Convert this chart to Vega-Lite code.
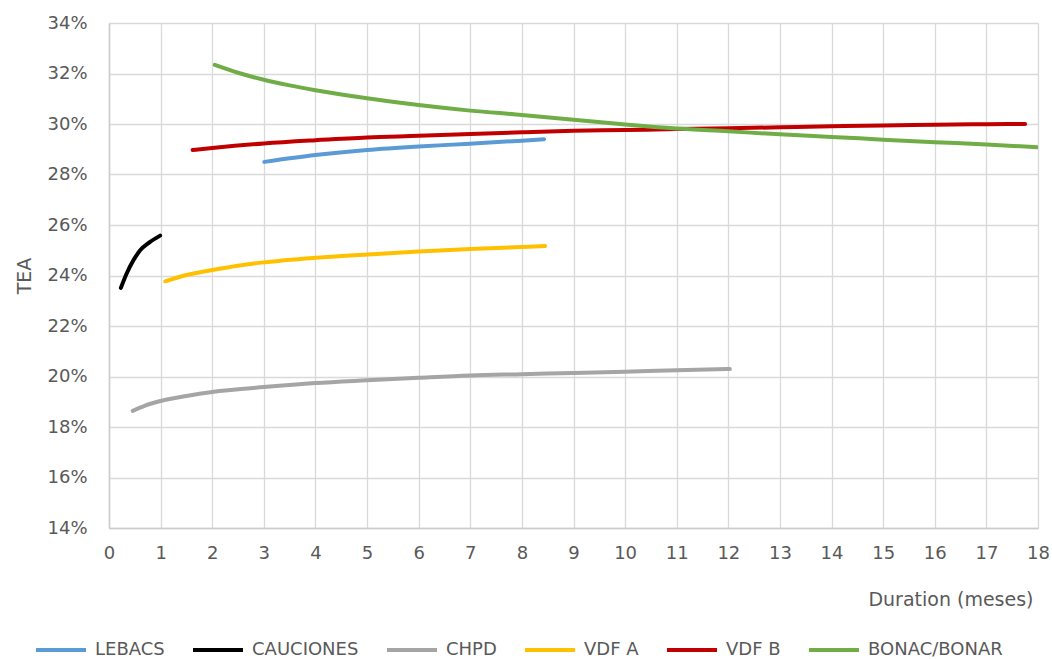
{
  "$schema": "https://vega.github.io/schema/vega-lite/v6.json",
  "width": 929,
  "height": 505,
  "autosize": {"type": "none"},
  "padding": {"left": 109, "top": 23, "right": 14, "bottom": 131},
  "background": "white",
  "config": {
    "view": {"stroke": null},
    "font": "DejaVu Sans",
    "axis": {
      "labelFont": "DejaVu Sans",
      "titleFont": "DejaVu Sans",
      "labelColor": "#595959",
      "titleColor": "#595959",
      "labelFontSize": 18,
      "titleFontSize": 19,
      "titleFontWeight": "normal",
      "gridColor": "#d9d9d9",
      "gridWidth": 1.3,
      "domainColor": "#cccccc",
      "domainWidth": 1.5,
      "ticks": false
    },
    "legend": {
      "labelFont": "DejaVu Sans",
      "labelColor": "#595959",
      "labelFontSize": 18
    }
  },
  "data": {
    "values": [
      {"series": "LEBACS", "m": 3.01, "v": 0.2850},
      {"series": "LEBACS", "m": 4, "v": 0.2877},
      {"series": "LEBACS", "m": 5, "v": 0.2897},
      {"series": "LEBACS", "m": 6, "v": 0.2911},
      {"series": "LEBACS", "m": 7, "v": 0.2922},
      {"series": "LEBACS", "m": 8, "v": 0.2934},
      {"series": "LEBACS", "m": 8.43, "v": 0.2940},
      {"series": "CAUCIONES", "m": 0.23, "v": 0.2351},
      {"series": "CAUCIONES", "m": 0.34, "v": 0.2407},
      {"series": "CAUCIONES", "m": 0.47, "v": 0.2459},
      {"series": "CAUCIONES", "m": 0.6, "v": 0.2499},
      {"series": "CAUCIONES", "m": 0.79, "v": 0.2532},
      {"series": "CAUCIONES", "m": 0.99, "v": 0.2558},
      {"series": "CHPD", "m": 0.46, "v": 0.1864},
      {"series": "CHPD", "m": 0.7, "v": 0.1885},
      {"series": "CHPD", "m": 1, "v": 0.1903},
      {"series": "CHPD", "m": 1.5, "v": 0.1923},
      {"series": "CHPD", "m": 2, "v": 0.1939},
      {"series": "CHPD", "m": 3, "v": 0.1958},
      {"series": "CHPD", "m": 4, "v": 0.1974},
      {"series": "CHPD", "m": 5, "v": 0.1985},
      {"series": "CHPD", "m": 6, "v": 0.1995},
      {"series": "CHPD", "m": 7, "v": 0.2004},
      {"series": "CHPD", "m": 8, "v": 0.2009},
      {"series": "CHPD", "m": 9, "v": 0.2014},
      {"series": "CHPD", "m": 10, "v": 0.2019},
      {"series": "CHPD", "m": 11, "v": 0.2025},
      {"series": "CHPD", "m": 12.03, "v": 0.2030},
      {"series": "VDF A", "m": 1.09, "v": 0.2377},
      {"series": "VDF A", "m": 1.5, "v": 0.2402},
      {"series": "VDF A", "m": 2, "v": 0.2422},
      {"series": "VDF A", "m": 2.5, "v": 0.2439},
      {"series": "VDF A", "m": 3, "v": 0.2452},
      {"series": "VDF A", "m": 4, "v": 0.2470},
      {"series": "VDF A", "m": 5, "v": 0.2483},
      {"series": "VDF A", "m": 6, "v": 0.2495},
      {"series": "VDF A", "m": 7, "v": 0.2505},
      {"series": "VDF A", "m": 8, "v": 0.2513},
      {"series": "VDF A", "m": 8.45, "v": 0.2517},
      {"series": "VDF B", "m": 1.62, "v": 0.2897},
      {"series": "VDF B", "m": 2, "v": 0.2905},
      {"series": "VDF B", "m": 3, "v": 0.2923},
      {"series": "VDF B", "m": 4, "v": 0.2936},
      {"series": "VDF B", "m": 5, "v": 0.2947},
      {"series": "VDF B", "m": 6, "v": 0.2953},
      {"series": "VDF B", "m": 7, "v": 0.2960},
      {"series": "VDF B", "m": 8, "v": 0.2967},
      {"series": "VDF B", "m": 9, "v": 0.2973},
      {"series": "VDF B", "m": 10, "v": 0.2976},
      {"series": "VDF B", "m": 11, "v": 0.2980},
      {"series": "VDF B", "m": 12, "v": 0.2983},
      {"series": "VDF B", "m": 13, "v": 0.2987},
      {"series": "VDF B", "m": 14, "v": 0.2991},
      {"series": "VDF B", "m": 15, "v": 0.2994},
      {"series": "VDF B", "m": 16, "v": 0.2997},
      {"series": "VDF B", "m": 17, "v": 0.2999},
      {"series": "VDF B", "m": 17.75, "v": 0.3000},
      {"series": "BONAC/BONAR", "m": 2.05, "v": 0.3234},
      {"series": "BONAC/BONAR", "m": 2.5, "v": 0.3203},
      {"series": "BONAC/BONAR", "m": 3, "v": 0.3175},
      {"series": "BONAC/BONAR", "m": 3.5, "v": 0.3153},
      {"series": "BONAC/BONAR", "m": 4, "v": 0.3134},
      {"series": "BONAC/BONAR", "m": 5, "v": 0.3102},
      {"series": "BONAC/BONAR", "m": 6, "v": 0.3075},
      {"series": "BONAC/BONAR", "m": 7, "v": 0.3053},
      {"series": "BONAC/BONAR", "m": 8, "v": 0.3036},
      {"series": "BONAC/BONAR", "m": 9, "v": 0.3017},
      {"series": "BONAC/BONAR", "m": 10, "v": 0.2998},
      {"series": "BONAC/BONAR", "m": 11, "v": 0.2982},
      {"series": "BONAC/BONAR", "m": 12, "v": 0.2971},
      {"series": "BONAC/BONAR", "m": 13, "v": 0.2959},
      {"series": "BONAC/BONAR", "m": 14, "v": 0.2949},
      {"series": "BONAC/BONAR", "m": 15, "v": 0.2938},
      {"series": "BONAC/BONAR", "m": 16, "v": 0.2928},
      {"series": "BONAC/BONAR", "m": 17, "v": 0.2919},
      {"series": "BONAC/BONAR", "m": 18, "v": 0.2908}
    ]
  },
  "mark": {"type": "line", "strokeWidth": 4, "interpolate": "monotone", "strokeCap": "round", "clip": true},
  "encoding": {
    "x": {
      "field": "m",
      "type": "quantitative",
      "scale": {"domain": [0, 18], "nice": false, "zero": false},
      "axis": {
        "values": [0,1,2,3,4,5,6,7,8,9,10,11,12,13,14,15,16,17,18],
        "title": "Duration (meses)",
        "titleAnchor": "end",
        "titleAlign": "right",
        "titleX": 924,
        "titlePadding": 28,
        "labelPadding": 16,
        "labelFlush": false
      }
    },
    "y": {
      "field": "v",
      "type": "quantitative",
      "scale": {"domain": [0.14, 0.34], "nice": false, "zero": false},
      "axis": {
        "values": [0.14,0.16,0.18,0.20,0.22,0.24,0.26,0.28,0.30,0.32,0.34],
        "format": ".0%",
        "title": "TEA",
        "titlePadding": 12,
        "labelPadding": 22
      }
    },
    "color": {
      "field": "series",
      "type": "nominal",
      "scale": {
        "domain": ["LEBACS", "CAUCIONES", "CHPD", "VDF A", "VDF B", "BONAC/BONAR"],
        "range": ["#5b9bd5", "#000000", "#a5a5a5", "#ffc000", "#c00000", "#70ad47"]
      },
      "legend": {
        "title": null,
        "orient": "none",
        "direction": "horizontal",
        "legendX": -75,
        "legendY": 600,
        "padding": 0,
        "symbolType": "stroke",
        "symbolSize": 2500,
        "symbolStrokeWidth": 4,
        "labelOffset": 7,
        "columnPadding": 20
      }
    }
  }
}
